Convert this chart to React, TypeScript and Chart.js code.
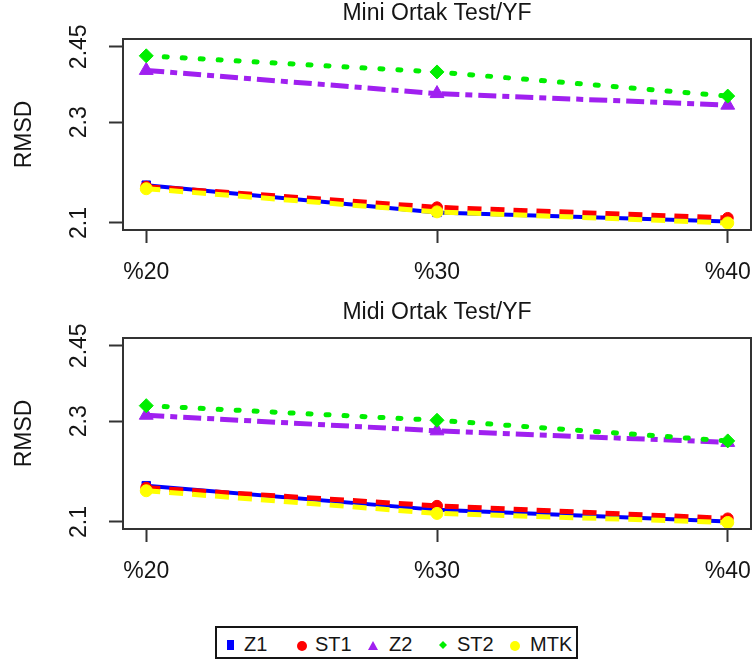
import React, { useEffect, useRef } from 'react';
import { Chart, registerables } from 'chart.js';

Chart.register(...registerables);

// ---- data ----
const categories = ['%20', '%30', '%40'];
const yTicks = [2.1, 2.3, 2.45];
const seriesNames = ['Z1', 'ST1', 'Z2', 'ST2', 'MTK'];

const miniZ1 = [2.175, 2.121, 2.103];
const miniST1 = [2.172, 2.131, 2.110];
const miniZ2 = [2.403, 2.357, 2.334];
const miniST2 = [2.432, 2.400, 2.352];
const miniMTK = [2.168, 2.122, 2.100];

const midiZ1 = [2.172, 2.124, 2.101];
const midiST1 = [2.168, 2.132, 2.107];
const midiZ2 = [2.312, 2.281, 2.258];
const midiST2 = [2.331, 2.302, 2.261];
const midiMTK = [2.162, 2.117, 2.099];

// ---- styles ----
const FONT = "'Liberation Sans', Arial, Helvetica, sans-serif";
const TEXT = '#151515';
const AXIS = '#333333';

const seriesStyles = [
  { color: '#0000FF', pointStyle: 'rect', radius: 6, width: 4, dash: [] as number[], cap: 'butt', order: 5 },
  { color: '#FF0000', pointStyle: 'circle', radius: 5.5, width: 5, dash: [14, 9], cap: 'butt', order: 4 },
  { color: '#A020F0', pointStyle: 'triangle', radius: 8, width: 5, dash: [18, 6, 7, 6], cap: 'butt', order: 3 },
  { color: '#00EE00', pointStyle: 'rectRot', radius: 7, width: 5, dash: [3, 15], cap: 'round', order: 2 },
  { color: '#FFFF00', pointStyle: 'circle', radius: 6, width: 5, dash: [14, 9], cap: 'butt', order: 1 },
];

const boxPlugin = {
  id: 'rbox',
  afterDraw(chart: any) {
    const { ctx, chartArea: a } = chart;
    ctx.save();
    ctx.strokeStyle = AXIS;
    ctx.lineWidth = 2;
    ctx.strokeRect(a.left, a.top, a.right - a.left, a.bottom - a.top);
    ctx.restore();
  },
};

function Panel({ title, series }: { title: string; series: number[][] }) {
  const ref = useRef<HTMLCanvasElement | null>(null);
  useEffect(() => {
    if (!ref.current) return;
    const datasets = series.map((vals, k) => {
      const s = seriesStyles[k];
      return {
        label: seriesNames[k],
        data: vals.map((y, i) => ({ x: i, y })),
        borderColor: s.color,
        backgroundColor: s.color,
        borderWidth: s.width,
        borderDash: s.dash,
        borderCapStyle: s.cap,
        pointStyle: s.pointStyle,
        pointRadius: s.radius,
        pointBackgroundColor: s.color,
        pointBorderColor: s.color,
        pointBorderWidth: 1,
        tension: 0,
        order: s.order,
      };
    });
    const chart = new Chart(ref.current, {
      type: 'line',
      data: { datasets } as any,
      plugins: [boxPlugin],
      options: {
        animation: false,
        responsive: false,
        maintainAspectRatio: false,
        layout: { autoPadding: false, padding: { left: 0, right: 5, top: 0, bottom: 0 } },
        plugins: {
          legend: { display: false },
          tooltip: { enabled: false },
          title: {
            display: true,
            text: title,
            fullSize: false,
            color: TEXT,
            font: { family: FONT, size: 23, weight: 'normal' },
            padding: { top: 0, bottom: 11.4 },
          },
        },
        scales: {
          x: {
            type: 'linear',
            min: -0.08,
            max: 2.08,
            afterBuildTicks: (s: any) => {
              s.ticks = categories.map((_, i) => ({ value: i }));
            },
            ticks: {
              callback: (v: any) => categories[v] ?? '',
              font: { family: FONT, size: 23 },
              color: TEXT,
              padding: 16,
              maxRotation: 0,
              minRotation: 0,
              autoSkip: false,
            },
            grid: { drawOnChartArea: false, drawTicks: true, tickLength: 13, tickWidth: 2, tickColor: AXIS },
            border: { display: false },
            afterFit: (s: any) => {
              s.height = 70;
              s.paddingLeft = 0;
              s.paddingRight = 0;
            },
          },
          y: {
            type: 'linear',
            min: 2.086,
            max: 2.4654,
            afterBuildTicks: (s: any) => {
              s.ticks = yTicks.map((v) => ({ value: v }));
            },
            ticks: {
              callback: (v: any) => String(v),
              font: { family: FONT, size: 23 },
              color: TEXT,
              minRotation: 90,
              maxRotation: 90,
              crossAlign: 'center',
              padding: 6.5,
              autoSkip: false,
            },
            grid: { drawOnChartArea: false, drawTicks: true, tickLength: 14, tickWidth: 2, tickColor: AXIS },
            border: { display: false },
            title: {
              display: true,
              text: 'RMSD',
              color: TEXT,
              font: { family: FONT, size: 23 },
              padding: { top: 11, bottom: 0 },
            },
            afterFit: (s: any) => {
              s.width = 123;
              s.paddingTop = 0;
              s.paddingBottom = 0;
            },
          },
        },
      } as any,
    });
    return () => chart.destroy();
  }, [title, series]);
  return <canvas ref={ref} width={756} height={300} style={{ display: 'block', width: 756, height: 300 }} />;
}

function LegendMarker({ k }: { k: number }) {
  const c = seriesStyles[k].color;
  const shapes = [
    <rect x={3} y={1} width={7} height={10} fill={c} />,
    <circle cx={6} cy={7} r={5} fill={c} />,
    <polygon points="1,11 6,2 11,11" fill={c} />,
    <polygon points="6,2 10,6 6,10 2,6" fill={c} />,
    <circle cx={6} cy={7} r={5} fill={c} />,
  ];
  return (
    <svg width={12} height={13} style={{ position: 'absolute', left: -6, top: -6 }}>
      {shapes[k]}
    </svg>
  );
}

const legendMarkerX = [228, 300, 371, 441, 513];
const legendTextX = [242, 313, 387, 455, 528];

function Legend() {
  return (
    <div
      style={{
        position: 'absolute',
        left: 215,
        top: 626,
        width: 363,
        height: 33,
        border: `2px solid ${TEXT}`,
        boxSizing: 'border-box',
      }}
    >
      {seriesNames.map((name, k) => (
        <React.Fragment key={name}>
          <div style={{ position: 'absolute', left: legendMarkerX[k] - 215, top: 17 }}>
            <LegendMarker k={k} />
          </div>
          <span
            style={{
              position: 'absolute',
              left: legendTextX[k] - 215,
              top: 4,
              fontFamily: FONT,
              fontSize: 20,
              lineHeight: '24px',
              color: TEXT,
              whiteSpace: 'nowrap',
            }}
          >
            {name}
          </span>
        </React.Fragment>
      ))}
    </div>
  );
}

const miniSeries = [miniZ1, miniST1, miniZ2, miniST2, miniMTK];
const midiSeries = [midiZ1, midiST1, midiZ2, midiST2, midiMTK];

export default function App() {
  return (
    <div style={{ position: 'absolute', left: 0, top: 0, width: 756, height: 664, background: '#fff', overflow: 'hidden' }}>
      <div style={{ position: 'absolute', left: 0, top: 0 }}>
        <Panel title="Mini Ortak Test/YF" series={miniSeries} />
      </div>
      <div style={{ position: 'absolute', left: 0, top: 299 }}>
        <Panel title="Midi Ortak Test/YF" series={midiSeries} />
      </div>
      <Legend />
    </div>
  );
}
